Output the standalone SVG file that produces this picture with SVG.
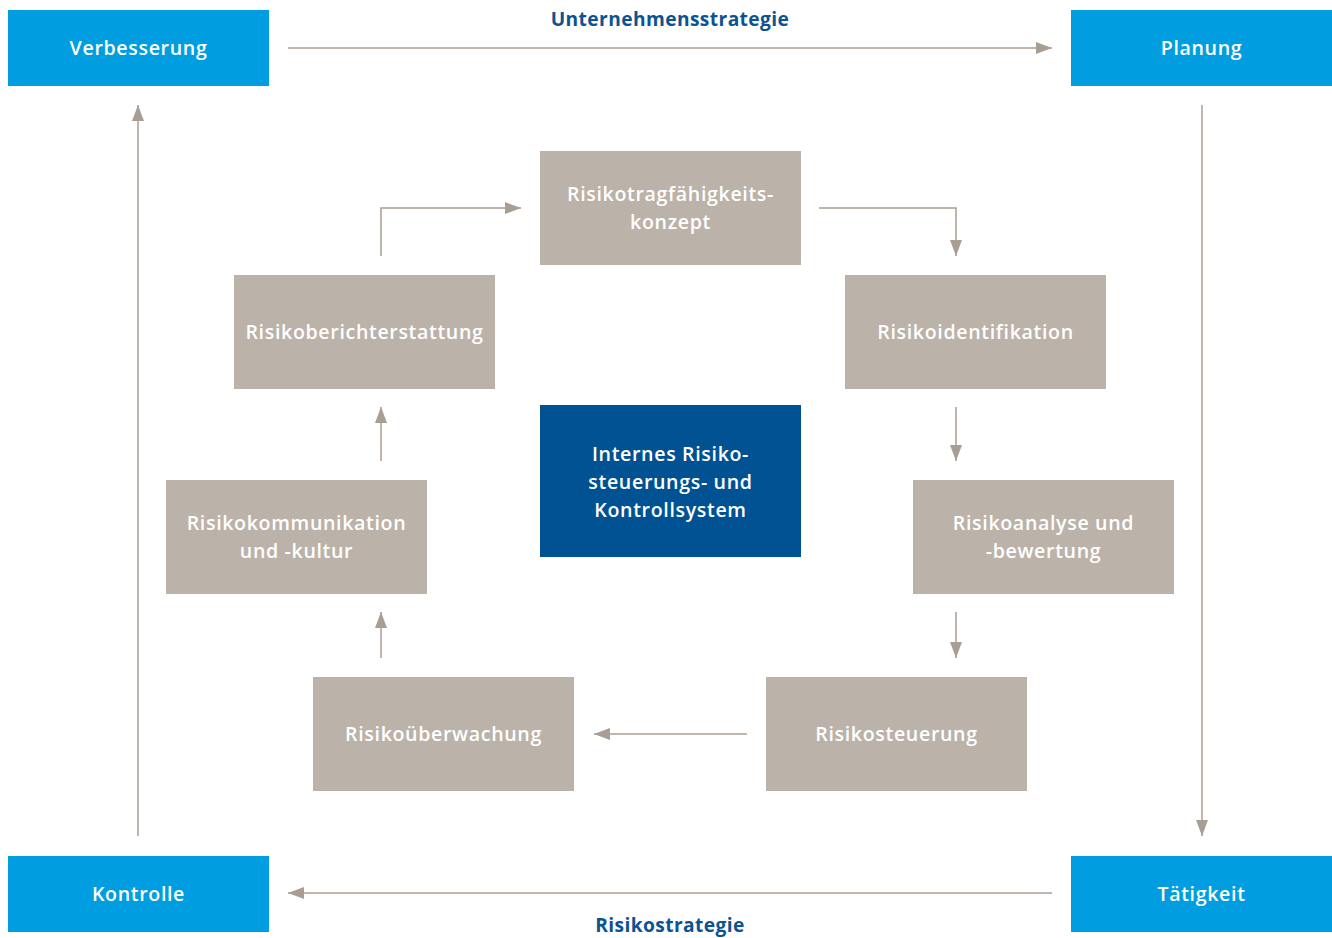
<svg xmlns="http://www.w3.org/2000/svg" width="1332" height="938" viewBox="0 0 1332 938">
<defs>
<style>
.txt{font-family:"Open Sans","Noto Sans","Liberation Sans",sans-serif;font-weight:600;font-size:19.6px;fill:#ffffff;text-anchor:middle;letter-spacing:0.65px}
.lbl{font-family:"Open Sans","Noto Sans","Liberation Sans",sans-serif;font-weight:700;font-size:19.2px;fill:#0D5291;text-anchor:middle;letter-spacing:0.4px}
.blue{fill:#009EE0}
.dark{fill:#005293}
.grey{fill:#BBB2A9}
.con{fill:none;stroke:#A89E94;stroke-width:1.5;marker-end:url(#ah)}
</style>
<marker id="ah" viewBox="0 0 16 12" refX="16" refY="6" markerWidth="16" markerHeight="12" markerUnits="userSpaceOnUse" orient="auto">
<path d="M0,0 L16,6 L0,12 Z" fill="#A89E94"/>
</marker>
</defs>
<rect width="1332" height="938" fill="#ffffff"/>
<g id="connectors">
<path class="con" d="M288,48 H1052"/>
<path class="con" d="M1202,105 V836"/>
<path class="con" d="M1052,893 H288"/>
<path class="con" d="M138,836 V105"/>
<path class="con" d="M381,256 V208 H521"/>
<path class="con" d="M819,208 H956 V256"/>
<path class="con" d="M956,407 V461"/>
<path class="con" d="M956,612 V658"/>
<path class="con" d="M747,734 H594"/>
<path class="con" d="M381,658 V612"/>
<path class="con" d="M381,461 V407"/>
<text class="lbl" x="670" y="26">Unternehmensstrategie</text>
<text class="lbl" x="670" y="932">Risikostrategie</text>
</g>
<g id="verbesserung"><rect class="blue" x="8" y="10" width="261" height="76"/><text class="txt" x="138.5" y="55">Verbesserung</text></g>
<g id="planung"><rect class="blue" x="1071" y="10" width="261" height="76"/><text class="txt" x="1201.5" y="55">Planung</text></g>
<g id="kontrolle"><rect class="blue" x="8" y="856" width="261" height="76"/><text class="txt" x="138.5" y="901">Kontrolle</text></g>
<g id="taetigkeit"><rect class="blue" x="1071" y="856" width="261" height="76"/><text class="txt" x="1201.5" y="901">Tätigkeit</text></g>
<g id="risikotragfaehigkeit"><rect class="grey" x="540" y="151" width="261" height="114"/><text class="txt" x="670.5" y="201">Risikotragfähigkeits-</text><text class="txt" x="670.5" y="229">konzept</text></g>
<g id="risikoberichterstattung"><rect class="grey" x="234" y="275" width="261" height="114"/><text class="txt" x="364.5" y="339">Risikoberichterstattung</text></g>
<g id="risikoidentifikation"><rect class="grey" x="845" y="275" width="261" height="114"/><text class="txt" x="975.5" y="339">Risikoidentifikation</text></g>
<g id="internes"><rect class="dark" x="540" y="405" width="261" height="152"/><text class="txt" x="670.5" y="461">Internes Risiko-</text><text class="txt" x="670.5" y="489">steuerungs- und</text><text class="txt" x="670.5" y="517">Kontrollsystem</text></g>
<g id="risikokommunikation"><rect class="grey" x="166" y="480" width="261" height="114"/><text class="txt" x="296.5" y="530">Risikokommunikation</text><text class="txt" x="296.5" y="558">und -kultur</text></g>
<g id="risikoanalyse"><rect class="grey" x="913" y="480" width="261" height="114"/><text class="txt" x="1043.5" y="530">Risikoanalyse und</text><text class="txt" x="1043.5" y="558">-bewertung</text></g>
<g id="risikoueberwachung"><rect class="grey" x="313" y="677" width="261" height="114"/><text class="txt" x="443.5" y="741">Risikoüberwachung</text></g>
<g id="risikosteuerung"><rect class="grey" x="766" y="677" width="261" height="114"/><text class="txt" x="896.5" y="741">Risikosteuerung</text></g>
</svg>
